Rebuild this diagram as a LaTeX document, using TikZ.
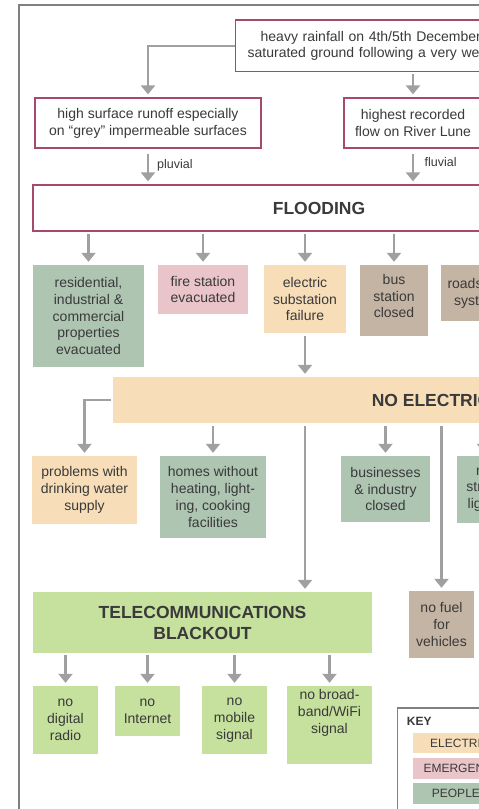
\documentclass[tikz,border=0pt]{standalone}
\usepackage{fontspec}
\setmainfont{Liberation Sans}
\usetikzlibrary{arrows.meta}
\definecolor{bordc}{RGB}{168,72,110}
\definecolor{arrc}{RGB}{160,160,160}
\definecolor{frmc}{RGB}{128,128,128}
\definecolor{txtc}{RGB}{58,58,58}
\definecolor{peachc}{RGB}{247,222,184}
\definecolor{pinkc}{RGB}{233,196,200}
\definecolor{sagec}{RGB}{174,197,178}
\definecolor{tanc}{RGB}{196,180,163}
\definecolor{lgreenc}{RGB}{198,224,158}
\tikzset{
  base/.style={rectangle, inner sep=0pt, align=center, text=txtc, font=\fontsize{14}{16.8}\selectfont},
  pbox/.style={base, draw=bordc, line width=1.3pt, fill=white},
  cbox/.style={base, fill=#1},
  big/.style={font=\bfseries\fontsize{17.5}{21}\selectfont},
  conn/.style={draw=arrc, line width=2.6pt, -{Triangle[width=14pt,length=9pt]}, shorten >=3pt, shorten <=3pt},
  lbl/.style={text=txtc, font=\fontsize{12.5}{15}\selectfont, inner sep=0pt, anchor=base west},
  keyent/.style={rectangle, inner sep=0pt, anchor=west, minimum height=#1, minimum width=150pt, text width=150pt, align=left, text=txtc, font=\fontsize{12}{14}\selectfont},
}
\begin{document}
\begin{tikzpicture}[x=1pt,y=-1pt]
\useasboundingbox (0,0) rectangle (479,809);
\clip (0,0) rectangle (479,809);
\fill[white] (0,0) rectangle (479,809);
% outer frame
\node[draw=frmc, line width=1.6pt, anchor=north west, minimum width=800pt, minimum height=1000pt, inner sep=0pt] (frame) at (18,4) {};

% causes
\node[pbox, anchor=north west, minimum width=465pt, minimum height=51.7pt, text width=441pt, inner xsep=12pt, align=left] (rain) at (235,19.3)
  {\hspace*{13pt}heavy rainfall on 4th/5th December\\saturated ground following a very wet};
\node[pbox, minimum width=226pt, minimum height=50pt] (runoff) at (148,123)
  {high surface runoff especially\\on “grey” impermeable surfaces};
\node[pbox, minimum width=138pt, minimum height=50pt] (flow) at (413,123)
  {highest recorded\\flow on River Lune};
\node[pbox, big, minimum width=572pt, minimum height=46pt] (flood) at (319,208) {FLOODING};

\draw[conn, shorten <=0pt] (rain.west) -| (runoff.north);
\draw[conn, shorten <=2pt] (rain.south -| flow.north) -- (flow.north);
\draw[conn, shorten <=5pt] (runoff.south) -- (runoff.south |- flood.north);
\draw[conn, shorten <=5pt] (flow.south) -- (flow.south |- flood.north);
\node[lbl] (pluv) at (157,168) {pluvial};
\node[lbl] (fluv) at (424.5,166.5) {fluvial};

% flooding effects
\node[cbox=sagec, minimum width=111pt, minimum height=102pt] (res) at (88.5,316)
  {residential,\\industrial \&\\commercial\\properties\\evacuated};
\node[cbox=pinkc, minimum width=90pt, minimum height=49pt] (fire) at (203,289.5)
  {fire station\\evacuated};
\node[cbox=peachc, minimum width=82pt, minimum height=68pt] (subst) at (305,299)
  {electric\\substation\\failure};
\node[cbox=tanc, minimum width=68pt, minimum height=71pt] (bus) at (394,300.5) {};
\node[base] (bust) at (394,296) {bus\\station\\closed};
\node[cbox=tanc, minimum width=99pt, minimum height=56pt, text width=86pt, inner xsep=6.5pt, align=left] (roads) at (490.5,293)
  {roads\\\hspace*{6.5pt}systems};

\foreach \n in {res,fire,subst,bus,roads}
  \draw[conn, shorten <=2pt] (flood.south -| \n.north) -- (\n.north);

% no electricity
\node[cbox=peachc, big, minimum width=663pt, minimum height=46pt] (noelec) at (444.7,400) {NO ELECTRICITY};
\draw[conn] (subst.south) -- (noelec.north -| subst.south);

\node[cbox=peachc, minimum width=105pt, minimum height=68pt] (water) at (84.5,490)
  {problems with\\drinking water\\supply};
\node[cbox=sagec, minimum width=106pt, minimum height=82pt] (homes) at (213,497)
  {homes without\\heating, light-\\ing, cooking\\facilities};
\node[cbox=sagec, minimum width=89pt, minimum height=66pt] (busi) at (385.5,489)
  {businesses\\\& industry\\closed};
\node[cbox=sagec, minimum width=54pt, minimum height=67pt] (street) at (484,489.5)
  {no\\street\\lights};
\node[cbox=tanc, minimum width=65pt, minimum height=67pt] (fuel) at (441.5,624.5)
  {no fuel\\for\\vehicles};
\node[cbox=lgreenc, big, minimum width=339pt, minimum height=61pt] (tele) at (202.5,622.5)
  {TELECOMMUNICATIONS\\BLACKOUT};

\draw[conn, shorten <=2pt] (noelec.west) -| (water.north);
\foreach \n in {homes,busi,street,fuel}
  \draw[conn] (noelec.south -| \n.north) -- (\n.north);
\draw[conn] (noelec.south -| subst.south) -- (tele.north -| subst.south);

% telecom effects
\node[cbox=lgreenc, minimum width=65pt, minimum height=68pt] (radio) at (65.5,720)
  {no\\digital\\radio};
\node[cbox=lgreenc, minimum width=65pt, minimum height=50pt] (inet) at (147.5,711)
  {no\\Internet};
\node[cbox=lgreenc, minimum width=65pt, minimum height=68pt] (mobile) at (234.5,720)
  {no\\mobile\\signal};
\node[cbox=lgreenc, minimum width=85pt, minimum height=78pt] (bb) at (329.5,725) {};
\node[base] (bbt) at (329.5,713) {no broad-\\band/WiFi\\signal};
\foreach \n in {radio,inet,mobile,bb}
  \draw[conn, shorten <=2pt] (tele.south -| \n.north) -- (\n.north);

% key
\node[draw=frmc, line width=1.5pt, anchor=north west, minimum width=300pt, minimum height=200pt, inner sep=0pt] (keyfr) at (396.7,707) {};
\node[anchor=base west, inner sep=0pt, font=\bfseries\fontsize{12}{14}\selectfont, text=txtc] (keyt) at (406.7,725) {KEY};
\node[keyent=20pt, fill=peachc] (kel) at (412.7,743) {\hspace*{17.3pt}ELECTRICITY};
\node[keyent=21.3pt, fill=pinkc] (kem) at (412.7,768.3) {\hspace*{10.6pt}EMERGENCY};
\node[keyent=21pt, fill=sagec] (kpe) at (412.7,793.5) {\hspace*{19pt}PEOPLE};
\end{tikzpicture}
\end{document}
